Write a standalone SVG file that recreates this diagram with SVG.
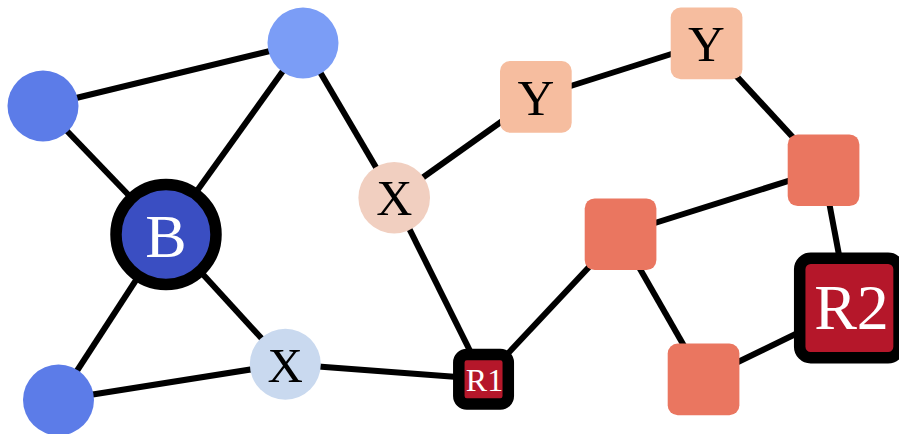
<svg xmlns="http://www.w3.org/2000/svg" width="899" height="434" viewBox="0 0 899 434">
  <style>
    .edge { stroke: #000; stroke-width: 6; fill: none; }
    text { font-family: 'Liberation Serif', 'Times New Roman', Times, serif; text-anchor: middle; }
    .dark { fill: #000; }
    .light { fill: #fff; }
    .hub { stroke: #000; stroke-width: 11.5; }
  </style>
  <rect width="899" height="434" fill="#fff"/>
  <g id="connectors">
    <line class="edge" x1="43" y1="106" x2="303" y2="43"/>
    <line class="edge" x1="43" y1="106" x2="166" y2="234"/>
    <line class="edge" x1="303" y1="43" x2="166" y2="234"/>
    <line class="edge" x1="303" y1="43" x2="394" y2="198"/>
    <line class="edge" x1="166" y1="234" x2="58" y2="400"/>
    <line class="edge" x1="166" y1="234" x2="285" y2="364"/>
    <line class="edge" x1="58" y1="400" x2="285" y2="364"/>
    <line class="edge" x1="285" y1="364" x2="484" y2="379"/>
    <line class="edge" x1="394" y1="198" x2="484" y2="379"/>
    <line class="edge" x1="394" y1="198" x2="536" y2="97"/>
    <line class="edge" x1="536" y1="97" x2="706" y2="43"/>
    <line class="edge" x1="706" y1="43" x2="823" y2="170"/>
    <line class="edge" x1="823" y1="170" x2="620" y2="234"/>
    <line class="edge" x1="823" y1="170" x2="849" y2="308"/>
    <line class="edge" x1="620" y1="234" x2="484" y2="379"/>
    <line class="edge" x1="620" y1="234" x2="703" y2="379"/>
    <line class="edge" x1="703" y1="379" x2="849" y2="308"/>
  </g>
  <g id="n-left"><circle cx="43" cy="106" r="35.5" fill="#5c7ce8"/></g>
  <g id="n-top"><circle cx="303" cy="43" r="35.5" fill="#7b9df6"/></g>
  <g id="n-bottom"><circle cx="58.5" cy="400" r="35.5" fill="#5c7ce8"/></g>
  <g id="n-B">
    <circle class="hub" cx="166" cy="234.5" r="50" fill="#3a4ec2"/>
    <text class="light" x="166" y="257" font-size="62">B</text>
  </g>
  <g id="n-X1">
    <circle cx="285.3" cy="364.2" r="35.5" fill="#c9d9ef"/>
    <text class="dark" x="285.3" y="381.5" font-size="49">X</text>
  </g>
  <g id="n-X2">
    <circle cx="394.2" cy="197.8" r="35.8" fill="#f1cfc0"/>
    <text class="dark" x="394.2" y="215" font-size="50">X</text>
  </g>
  <g id="n-Y1">
    <rect x="500" y="61" width="71.7" height="71.7" rx="10" fill="#f6bd9f"/>
    <text class="dark" x="535.8" y="115" font-size="51">Y</text>
  </g>
  <g id="n-Y2">
    <rect x="670.7" y="7.5" width="71.7" height="71.7" rx="10" fill="#f6bd9f"/>
    <text class="dark" x="706.5" y="61" font-size="51">Y</text>
  </g>
  <g id="n-O1"><rect x="787.7" y="134.4" width="71.7" height="71.7" rx="10" fill="#ea7660"/></g>
  <g id="n-O2"><rect x="584.7" y="198.4" width="71.7" height="71.7" rx="10" fill="#ea7660"/></g>
  <g id="n-O3"><rect x="667.7" y="343.6" width="71.7" height="71.7" rx="10" fill="#ea7660"/></g>
  <g id="n-R1">
    <rect class="hub" x="458.8" y="354.5" width="49.5" height="49.5" rx="8" fill="#b5172a"/>
    <text class="light" x="484.5" y="390.5" font-size="32">R1</text>
  </g>
  <g id="n-R2">
    <rect class="hub" x="799.7" y="258.3" width="99.4" height="99.4" rx="11" fill="#b5172a"/>
    <text class="light" x="851.5" y="329.3" font-size="64">R2</text>
  </g>
</svg>
